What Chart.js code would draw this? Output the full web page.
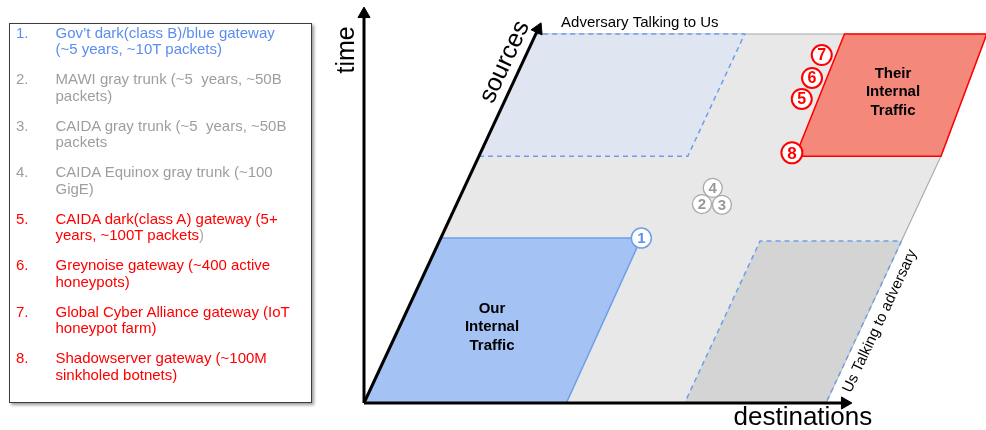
<!DOCTYPE html>
<html>
<head>
<meta charset="utf-8">
<title>Traffic matrix views</title>
<script src="https://cdn.jsdelivr.net/npm/chart.js@4.4.1/dist/chart.umd.min.js"></script>
<style>
  html, body { margin: 0; padding: 0; background: #fff; }
  #wrap { position: relative; width: 986px; height: 430px; overflow: hidden; font-family: "Liberation Sans", Arial, sans-serif; }
  #diagram { position: absolute; left: 0; top: 0; }
  #source-list { position: absolute; left: 9px; top: 23px; width: 303px; height: 380px; box-sizing: border-box;
                 border: 1.5px solid #3c3c3c; box-shadow: 2px 2px 3px rgba(0,0,0,0.4); background: #fff; }
  .item { position: absolute; left: 0; width: 100%; font-size: 15px; line-height: 16.5px; }
  .item .num { position: absolute; left: 6px; }
  .item .txt { position: absolute; left: 45.5px; white-space: nowrap; }
</style>
</head>
<body>
<div id="wrap">
  <canvas id="diagram" width="986" height="430"></canvas>
  <div id="source-list"></div>
</div>
<script>
// ---- data (diagram in "destination" / "source" plane units, 0..1) ----
const SKEW = 0.372; // how far the sources axis leans right per unit of source

const planeDest = [0, 1, 1, 0.976, 0];
const planeSrc  = [0, 0, 0.669, 1, 1];

const advInDest = [0, 0.452, 0.452, 0];        // adversary talking to us
const advInSrc  = [0.669, 0.669, 1, 1];

const usOutDest = [0.694, 1, 1, 0.694];        // us talking to adversary
const usOutSrc  = [0, 0, 0.439, 0.439];

const ourDest = [0, 0.438, 0.434, 0];          // our internal traffic
const ourSrc  = [0, 0, 0.447, 0.447];

const theirDest = [0.685, 1, 0.976, 0.668];    // their internal traffic
const theirSrc  = [0.669, 0.669, 1, 1];

const timeAxisX = [0, 0];
const timeAxisY = [0, 1.054];
const destAxisX = [0, 1.041];
const destAxisY = [0, 0];
const srcAxisDest = [0, 0];
const srcAxisSrc  = [0, 1.013];

const markerLabels = ['1', '2', '3', '4', '5', '6', '7', '8'];
const markerDest   = [0.434, 0.531, 0.575, 0.538, 0.641, 0.642, 0.640, 0.674];
const markerSrc    = [0.447, 0.539, 0.537, 0.583, 0.824, 0.881, 0.943, 0.678];
const markerGroup  = ['blue', 'gray', 'gray', 'gray', 'red', 'red', 'red', 'red'];

const listNumbers = ['1.', '2.', '3.', '4.', '5.', '6.', '7.', '8.'];
const listLines = [
  ['Gov\u2019t dark(class B)/blue gateway', '(~5 years, ~10T packets)'],
  ['MAWI gray trunk (~5&nbsp; years, ~50B', 'packets)'],
  ['CAIDA gray trunk (~5&nbsp; years, ~50B', 'packets'],
  ['CAIDA Equinox gray trunk (~100', 'GigE)'],
  ['CAIDA dark(class A) gateway (5+', 'years, ~100T packets<span style="color:#aaa">)</span>'],
  ['Greynoise gateway (~400 active', 'honeypots)'],
  ['Global Cyber Alliance gateway (IoT', 'honeypot farm)'],
  ['Shadowserver gateway (~100M', 'sinkholed botnets)']
];

const groupColor = { blue: '#5b8def', gray: '#9e9e9e', red: '#ff0000' };

// ---- side list ----
const list = document.getElementById('source-list');
listLines.forEach((lines, i) => {
  const el = document.createElement('div');
  el.className = 'item';
  el.style.top = (0.5 + i * 46.5) + 'px';
  el.style.color = groupColor[markerGroup[i]];
  el.innerHTML = `<span class="num">${listNumbers[i]}</span><span class="txt">${lines.join('<br>')}</span>`;
  list.appendChild(el);
});

// ---- helpers ----
const proj = (d, s) => ({ x: d + SKEW * s, y: s });
function poly(dest, src) {
  const pts = dest.map((d, i) => proj(d, src[i]));
  pts.push(pts[0]); // close the shape
  return pts;
}
function region(data, fillColor, lineColor, width, dash, order) {
  return {
    data, order,
    showLine: true, fill: 'shape', tension: 0,
    backgroundColor: fillColor, borderColor: lineColor, borderWidth: width,
    borderDash: dash, pointRadius: 0
  };
}
function axis(data, arrowRot, order) {
  return {
    data, order,
    showLine: true, fill: false,
    borderColor: '#000', borderWidth: 3, borderCapStyle: 'butt',
    pointStyle: 'triangle', pointRadius: [0, 7], rotation: [0, arrowRot],
    pointBackgroundColor: '#000', pointBorderColor: '#000', pointBorderWidth: 1
  };
}

// annotation texts (positions in chart units)
const FONT = '"Liberation Sans", Arial, sans-serif';
const notes = [
  { lines: ['time'], x: -0.037, y: 0.957, font: '25px ' + FONT, rot: -90 },
  { lines: ['sources'], x: 0.305, y: 0.924, font: '25px ' + FONT, rot: -65 },
  { lines: ['Adversary Talking to Us'], x: 0.597, y: 1.03, font: '15px ' + FONT, rot: 0 },
  { lines: ['destinations'], x: 0.950, y: -0.041, font: '26px ' + FONT, rot: 0 },
  { lines: ['Us Talking to adversary'], x: 1.117, y: 0.222, font: '15px ' + FONT, rot: -65 },
  { lines: ['Their', 'Internal', 'Traffic'], x: 1.145, y: 0.843, font: 'bold 15px ' + FONT, rot: 0 },
  { lines: ['Our', 'Internal', 'Traffic'], x: 0.277, y: 0.206, font: 'bold 15px ' + FONT, rot: 0 }
];

const textPlugin = {
  id: 'diagramText',
  afterDatasetsDraw(chart) {
    const { ctx, scales: { x, y } } = chart;
    ctx.save();
    ctx.fillStyle = '#000';
    ctx.textAlign = 'center';
    ctx.textBaseline = 'middle';
    notes.forEach(n => {
      ctx.save();
      ctx.translate(x.getPixelForValue(n.x), y.getPixelForValue(n.y));
      ctx.rotate(n.rot * Math.PI / 180);
      ctx.font = n.font;
      const lh = 18.5;
      n.lines.forEach((t, i) => ctx.fillText(t, 0, (i - (n.lines.length - 1) / 2) * lh));
      ctx.restore();
    });
    // numbers inside the markers
    const meta = chart.getDatasetMeta(chart.data.datasets.length - 1);
    meta.data.forEach((pt, i) => {
      const g = markerGroup[i];
      ctx.fillStyle = g === 'red' ? '#ff0000' : (g === 'blue' ? '#5b8def' : '#999');
      ctx.font = 'bold ' + (g === 'red' ? (i === 7 ? 17 : 16) : 15) + 'px ' + FONT;
      ctx.fillText(markerLabels[i], pt.x, pt.y + 1);
    });
    ctx.restore();
  }
};

const markerPoints = markerDest.map((d, i) => proj(d, markerSrc[i]));
const markerColor = markerGroup.map(g => g === 'red' ? '#ff0000' : (g === 'blue' ? '#6d9eeb' : '#a8a8a8'));

new Chart(document.getElementById('diagram'), {
  type: 'scatter',
  data: {
    datasets: [
      region(poly(planeDest, planeSrc), '#e8e8e8', '#a8a8a8', 1.2, [], 20),
      region(poly(advInDest, advInSrc), '#dfe6f1', '#6d9eeb', 1.5, [5, 4], 19),
      region(poly(usOutDest, usOutSrc), '#d4d4d4', '#6d9eeb', 1.5, [5, 4], 18),
      region(poly(ourDest, ourSrc), '#a4c2f4', '#6d9eeb', 1.5, [], 17),
      region(poly(theirDest, theirSrc), '#f3887b', '#ff0000', 1.5, [], 16),
      axis(timeAxisX.map((v, i) => ({ x: v, y: timeAxisY[i] })), 0, 5),
      axis(destAxisX.map((v, i) => ({ x: v, y: destAxisY[i] })), 90, 4),
      axis(srcAxisDest.map((d, i) => proj(d, srcAxisSrc[i])), 25, 3),
      {
        data: markerPoints, order: 0, showLine: false,
        pointStyle: 'circle',
        pointRadius: [10, 9.5, 9.5, 9.5, 10, 10, 10, 10.5],
        pointBorderWidth: [1.5, 1.3, 1.3, 1.3, 2, 2, 2, 2],
        pointBorderColor: markerColor,
        pointBackgroundColor: '#fff'
      }
    ]
  },
  options: {
    responsive: false,
    animation: false,
    devicePixelRatio: 1,
    layout: { padding: 0, autoPadding: false },
    events: [],
    scales: {
      x: { type: 'linear', display: false, min: -364 / 462, max: (986 - 364) / 462 },
      y: { type: 'linear', display: false, min: -27 / 369, max: 403 / 369 }
    },
    plugins: { legend: { display: false }, tooltip: { enabled: false } }
  },
  plugins: [textPlugin]
});
</script>
</body>
</html>
